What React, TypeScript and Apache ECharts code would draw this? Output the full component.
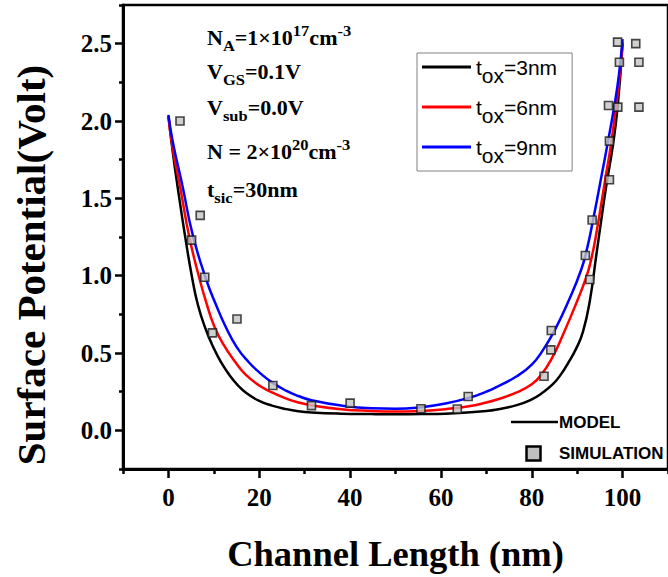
import React, { useEffect, useRef } from "react";
import * as echarts from "echarts";

// ---- axis ticks ----
const xMajorTicks = [0, 20, 40, 60, 80, 100];
const xMinorTicks = [-10, 10, 30, 50, 70, 90, 110];
const yMajorTicks = [0, 0.5, 1.0, 1.5, 2.0, 2.5];
const yMinorTicks = [-0.25, 0.25, 0.75, 1.25, 1.75, 2.25, 2.75];

// ---- model curves ----
const tox3X = [0, 1, 2, 3.7, 5.2, 6.5, 8.2, 10, 11.5, 13.5, 15.5, 17, 20, 22.8, 26, 28.6, 31.5, 38, 44.7, 50, 55.6, 61, 66.5, 70, 72, 76.7, 80, 82, 84.7, 86.5, 88, 89.8, 91.3, 92.8, 94.2, 95.5, 96.4, 97.9, 98.9, 100];
const tox3Y = [2.03, 1.79, 1.58, 1.25, 0.99, 0.81, 0.655, 0.53, 0.445, 0.355, 0.285, 0.245, 0.19, 0.16, 0.137, 0.124, 0.116, 0.108, 0.105, 0.104, 0.105, 0.108, 0.117, 0.125, 0.133, 0.163, 0.2, 0.235, 0.3, 0.365, 0.435, 0.53, 0.64, 0.84, 1.13, 1.4, 1.58, 1.85, 2.09, 2.5];

const tox6X = [0, 1, 2.6, 4.6, 6.8, 8.5, 10, 12, 15, 17, 20, 22.8, 26, 28.6, 31.5, 38, 44.7, 50, 55.6, 61, 66.5, 70, 72, 76.7, 80, 82, 84.5, 86.9, 89.5, 92, 93.2, 94.2, 95.5, 96.5, 97.5, 98.6, 99.4, 100];
const tox6Y = [2.03, 1.81, 1.57, 1.25, 0.985, 0.81, 0.68, 0.56, 0.43, 0.36, 0.29, 0.245, 0.205, 0.18, 0.162, 0.137, 0.125, 0.121, 0.125, 0.137, 0.158, 0.18, 0.196, 0.245, 0.298, 0.355, 0.47, 0.62, 0.8, 0.99, 1.12, 1.27, 1.5, 1.68, 1.86, 2.1, 2.3, 2.51];

const tox9X = [0, 1, 3.1, 5.3, 8.2, 10.5, 12.6, 15, 17.7, 20, 22.8, 26, 28.6, 31.5, 38, 44.7, 50, 55.6, 61, 66.5, 70, 72, 76.7, 80, 82.5, 85.1, 88, 90.9, 92.3, 93.5, 95.2, 96.8, 98.2, 99.2, 100];
const tox9Y = [2.04, 1.86, 1.58, 1.27, 0.985, 0.81, 0.67, 0.54, 0.44, 0.375, 0.31, 0.255, 0.222, 0.195, 0.16, 0.142, 0.139, 0.149, 0.173, 0.213, 0.25, 0.276, 0.35, 0.425, 0.52, 0.65, 0.83, 1.04, 1.19, 1.36, 1.62, 1.87, 2.1, 2.3, 2.53];

// ---- simulation points ----
const simX = [2.55, 5.1, 7.0, 8.0, 9.7, 15.1, 23.0, 31.5, 40.0, 55.6, 63.6, 66.0, 82.7, 84.2, 84.3, 91.8, 92.8, 93.3, 96.9, 97.1, 97.1, 98.95, 98.9, 99.3, 102.9, 103.6, 103.6];
const simY = [2.0, 1.23, 1.39, 0.99, 0.63, 0.72, 0.29, 0.16, 0.176, 0.14, 0.138, 0.219, 0.35, 0.52, 0.645, 1.13, 0.975, 1.36, 2.1, 1.62, 1.87, 2.09, 2.51, 2.38, 2.5, 2.38, 2.09];

const seriesNames = ["tox=3nm", "tox=6nm", "tox=9nm"];
const seriesColors = ["#000000", "#ff0000", "#0000ff"];

const SERIF = '"Liberation Serif", "Times New Roman", serif';
const SANS = '"Liberation Sans", Arial, sans-serif';

const zip = (xs: number[], ys: number[]) => xs.map((x, i) => [x, ys[i]]);

export default function App() {
  const ref = useRef<HTMLDivElement>(null);
  useEffect(() => {
    if (!ref.current) return;
    const chart = echarts.init(ref.current, null, { renderer: "svg" });

    const axisLabelStyle = {
      fontFamily: SERIF,
      fontWeight: "bold" as const,
      fontSize: 25,
      color: "#000",
    };

    const m = { fontFamily: SERIF, fontWeight: "bold", fontSize: 20, fill: "#000", lineHeight: 30 };
    const s = { fontFamily: SERIF, fontWeight: "bold", fontSize: 15, fill: "#000", lineHeight: 14, verticalAlign: "bottom" };
    const p = { fontFamily: SERIF, fontWeight: "bold", fontSize: 15, fill: "#000", lineHeight: 14, verticalAlign: "top" };
    const rich = { m, s, p };
    const annot = (text: string, y: number) => ({
      type: "text",
      x: 207,
      y,
      scaleX: 1.1,
      z: 100,
      style: { text, rich, align: "left", verticalAlign: "middle" },
    });

    const option: any = {
      animation: false,
      backgroundColor: "#fff",
      grid: {
        left: 123,
        right: -5,
        top: 5,
        bottom: 102,
        show: true,
        borderColor: "#000",
        borderWidth: 2.5,
      },
      xAxis: [
        {
          type: "value",
          min: -10,
          max: 110,
          position: "bottom",
          axisLine: { show: true, onZero: false, lineStyle: { color: "#000", width: 3 } },
          axisTick: { show: true, length: 9, lineStyle: { color: "#000", width: 2.5 }, customValues: xMajorTicks },
          axisLabel: { ...axisLabelStyle, margin: 16, customValues: xMajorTicks },
          splitLine: { show: false },
          name: "Channel Length (nm)",
          nameLocation: "middle",
          nameGap: 66,
          nameTextStyle: { fontFamily: SERIF, fontWeight: "bold", fontSize: 36.5, color: "#000" },
        },
        {
          type: "value",
          min: -10,
          max: 110,
          position: "bottom",
          axisLine: { show: false, onZero: false },
          axisTick: { show: true, length: 5, lineStyle: { color: "#000", width: 2.5 }, customValues: xMinorTicks },
          axisLabel: { show: false },
          splitLine: { show: false },
        },
      ],
      yAxis: [
        {
          type: "value",
          min: -0.25,
          max: 2.75,
          position: "left",
          axisLine: { show: true, onZero: false, lineStyle: { color: "#000", width: 3 } },
          axisTick: { show: true, length: 8, lineStyle: { color: "#000", width: 2.5 }, customValues: yMajorTicks },
          axisLabel: {
            ...axisLabelStyle,
            margin: 11,
            customValues: yMajorTicks,
            formatter: (v: number) => v.toFixed(1),
          },
          splitLine: { show: false },
          name: "Surface Potential(Volt)",
          nameLocation: "middle",
          nameGap: 72,
          nameTextStyle: {
            fontFamily: SERIF,
            fontWeight: "bold",
            fontSize: 41,
            color: "#000",
            padding: [0, 56, 0, 0],
          },
        },
        {
          type: "value",
          min: -0.25,
          max: 2.75,
          position: "left",
          axisLine: { show: false, onZero: false },
          axisTick: { show: true, length: 4, lineStyle: { color: "#000", width: 2.5 }, customValues: yMinorTicks },
          axisLabel: { show: false },
          splitLine: { show: false },
        },
      ],
      legend: {
        orient: "vertical",
        left: 417,
        top: 53,
        padding: [1, 15, 5, 5],
        itemGap: 8,
        itemWidth: 49,
        itemHeight: 3,
        icon: "rect",
        backgroundColor: "#fff",
        borderColor: "#808080",
        borderWidth: 1,
        data: seriesNames,
        formatter: (name: string) => `{a|t}{b|ox}{a|${name.slice(3)}}`,
        textStyle: {
          rich: {
            a: { fontFamily: SANS, fontSize: 21, color: "#000", lineHeight: 26 },
            b: {
              fontFamily: SANS,
              fontSize: 21,
              color: "#000",
              lineHeight: 26,
              verticalAlign: "top",
              padding: [11, 0, 0, 0],
            },
          },
        },
      },
      series: [
        ...seriesNames.map((name, i) => ({
          name,
          type: "line",
          xAxisIndex: 0,
          yAxisIndex: 0,
          data: zip([tox3X, tox6X, tox9X][i], [tox3Y, tox6Y, tox9Y][i]),
          symbol: "none",
          showSymbol: false,
          smooth: 0.5,
          color: seriesColors[i],
          lineStyle: { color: seriesColors[i], width: 2.5 },
          z: 2 + i,
        })),
        {
          name: "SIMULATION",
          type: "scatter",
          xAxisIndex: 0,
          yAxisIndex: 0,
          data: zip(simX, simY),
          symbol: "rect",
          symbolSize: 8,
          itemStyle: { color: "#c4c4c4", borderColor: "#1a1a1a", borderWidth: 1.6 },
          z: 10,
        },
      ],
      graphic: [
        annot("{m|N}{s|A}{m|=1×10}{p|17}{m|cm}{p|-3}", 38),
        annot("{m|V}{s|GS}{m|=0.1V}", 72),
        annot("{m|V}{s|sub}{m|=0.0V}", 108),
        annot("{m|N = 2×10}{p|20}{m|cm}{p|-3}", 152),
        annot("{m|t}{s|sic}{m|=30nm}", 190),
        {
          type: "line",
          z: 100,
          shape: { x1: 511, y1: 422, x2: 558, y2: 422 },
          style: { stroke: "#000", lineWidth: 2.5 },
        },
        {
          type: "text",
          x: 559,
          y: 422,
          z: 100,
          style: {
            text: "MODEL",
            fontFamily: SANS,
            fontWeight: "bold",
            fontSize: 17,
            fill: "#000",
            align: "left",
            verticalAlign: "middle",
          },
        },
        {
          type: "rect",
          z: 100,
          shape: { x: 526.5, y: 446.5, width: 14, height: 14 },
          style: { fill: "#c0c0c0", stroke: "#000", lineWidth: 2.5 },
        },
        {
          type: "text",
          x: 559,
          y: 453,
          z: 100,
          style: {
            text: "SIMULATION",
            fontFamily: SANS,
            fontWeight: "bold",
            fontSize: 17,
            fill: "#000",
            align: "left",
            verticalAlign: "middle",
          },
        },
      ],
    };

    chart.setOption(option);
    return () => chart.dispose();
  }, []);

  return (
    <div
      ref={ref}
      style={{ position: "absolute", left: 0, top: 0, width: 668, height: 577, background: "#fff" }}
    />
  );
}
